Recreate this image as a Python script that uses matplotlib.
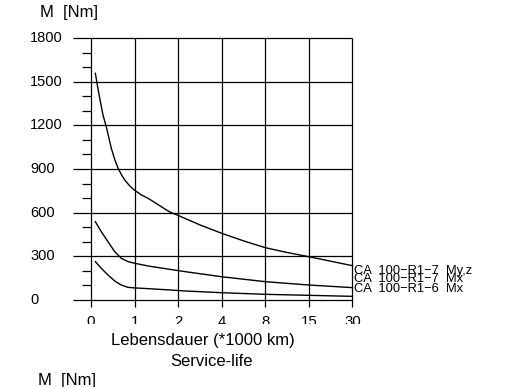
import numpy as np
import matplotlib
matplotlib.use('Agg')
import matplotlib.pyplot as plt

plt.rcParams['font.family'] = ['Liberation Sans', 'DejaVu Sans']

# x axis is categorical: service life in 1000 km, evenly spaced labels
km_labels = ['0', '1', '2', '4', '8', '15', '30']
y_major = [0, 300, 600, 900, 1200, 1500, 1800]
y_minor = [100, 200, 400, 500, 700, 800, 1000, 1100, 1300, 1400, 1600, 1700]

# curves, x given as position on the category scale
pos_myz = [0.1, 0.15, 0.2, 0.275, 0.35, 0.41, 0.465, 0.54, 0.62, 0.7, 0.775, 0.87, 0.965, 1.155, 1.31, 1.5, 1.8, 2.0, 2.5, 3.0, 3.5, 4.0, 4.5, 5.0, 5.5, 6.0]
m_myz = [1559, 1470, 1387, 1272, 1191, 1115, 1043, 970, 905, 860, 824, 790, 762, 721, 698, 662, 605, 580, 515, 457, 405, 358, 325, 296, 265, 234]

pos_r7 = [0.1, 0.236, 0.39, 0.544, 0.695, 0.849, 1.0, 1.31, 1.81, 2.16, 3.0, 4.0, 5.0, 6.0]
m_r7 = [537, 468, 399, 331, 285, 262, 251, 232, 209, 193, 158, 124, 101, 83]

pos_r6 = [0.1, 0.236, 0.39, 0.544, 0.695, 0.849, 1.0, 1.31, 1.81, 2.16, 3.0, 4.0, 5.0, 6.0]
m_r6 = [262, 216, 170, 129, 101, 85, 81, 76, 67, 60, 48, 37, 30, 23]

names = ['CA  100\u2212R1\u22127  My,z', 'CA  100\u2212R1\u22127  Mx', 'CA  100\u2212R1\u22126  Mx']

fig = plt.figure(figsize=(5.13, 3.87), dpi=100)
ax = fig.add_axes([0.1429, 0.1637, 0.5867, 0.7486])
ax.set_xlim(-0.406, 6.5)
ax.set_ylim(-165, 1830)
ax.axis('off')

xpos = np.arange(len(km_labels))
lw = 0.9
ax.hlines(y_major, -0.406, xpos[-1], color='black', lw=lw)
ax.vlines(xpos, -48, y_major[-1], color='black', lw=lw)
ax.hlines(y_minor, -0.214, 0, color='black', lw=lw)

for p, m in [(pos_myz, m_myz), (pos_r7, m_r7), (pos_r6, m_r6)]:
    ax.plot(p, m, color='black', lw=1.0)

for v in y_major:
    ax.text(-1.40, v, str(v), ha='left', va='center', fontsize=10.5)

for x, lab in zip(xpos, km_labels):
    ax.text(x, -105, lab, ha='center', va='top', fontsize=10.8, clip_on=True)

for name, yb in zip(names, [180, 119, 52]):
    ax.text(6.03, yb, name, ha='left', va='baseline', fontsize=9.3)

fig.text(203.3 / 513, 1 - 341 / 387, 'Lebensdauer (*1000 km)', ha='center', va='center', fontsize=12)
fig.text(211.3 / 513, 1 - 361 / 387, 'Service-life', ha='center', va='center', fontsize=12)
fig.text(40 / 513, 1 - 12.5 / 387, 'M  [Nm]', ha='left', va='center', fontsize=12)
fig.text(38 / 513, 1 - 373 / 387, 'M  [Nm]', ha='left', va='top', fontsize=12)

fig.savefig('out.png', dpi=100)
